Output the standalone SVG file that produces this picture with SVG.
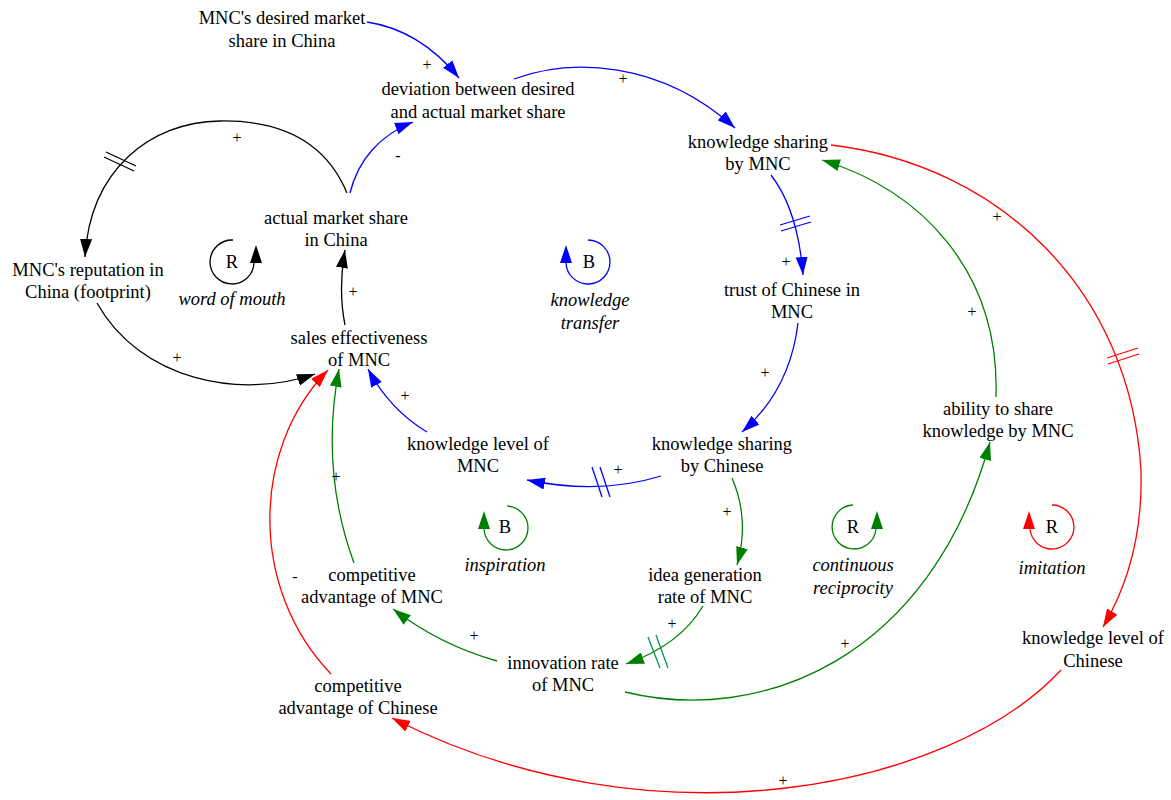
<svg xmlns="http://www.w3.org/2000/svg" width="1171" height="800" viewBox="0 0 1171 800">
<style>
.n{font-family:"Liberation Serif","Times New Roman",serif;font-size:18.5px;fill:#000;text-anchor:middle}
.l{font-family:"Liberation Serif","Times New Roman",serif;font-size:18.5px;font-style:italic;fill:#000;text-anchor:middle}
.p{font-family:"Liberation Serif","Times New Roman",serif;font-size:16px;fill:#000;text-anchor:middle}
.c{fill:none;stroke-width:1.3}
.bl{stroke:#0000ff}.gr{stroke:#008000}.rd{stroke:#ff0000}.bk{stroke:#000}
.d{stroke-width:1.3;fill:none}
</style>
<defs>
<marker id="aB" markerUnits="userSpaceOnUse" markerWidth="18" markerHeight="12" refX="18" refY="6" orient="auto"><path d="M0,0 L18,6 L0,12 z" fill="#0000ff"/></marker>
<marker id="aG" markerUnits="userSpaceOnUse" markerWidth="18" markerHeight="12" refX="18" refY="6" orient="auto"><path d="M0,0 L18,6 L0,12 z" fill="#008000"/></marker>
<marker id="aR" markerUnits="userSpaceOnUse" markerWidth="18" markerHeight="12" refX="18" refY="6" orient="auto"><path d="M0,0 L18,6 L0,12 z" fill="#ff0000"/></marker>
<marker id="aK" markerUnits="userSpaceOnUse" markerWidth="18" markerHeight="12" refX="18" refY="6" orient="auto"><path d="M0,0 L18,6 L0,12 z" fill="#000"/></marker>
</defs>

<g id="connectors">
<path class="c bl" d="M367,22 Q420,30 459,78" marker-end="url(#aB)"/>
<path class="c bl" d="M514,79 C570,58 660,60 735,128" marker-end="url(#aB)"/>
<path class="c bl" d="M350,193 C358,160 380,135 413,122" marker-end="url(#aB)"/>
<path class="c bk" d="M347,193 C325,140 280,120 220,121 C150,122 90,170 85,257" marker-end="url(#aK)"/>
<path class="c bk" d="M97,303 C140,380 240,400 315,374" marker-end="url(#aK)"/>
<path class="c bk" d="M345,325 Q338,290 345,250" marker-end="url(#aK)"/>
<path class="c bl" d="M771,175 Q798,210 803,275" marker-end="url(#aB)"/>
<path class="c bl" d="M798,323 Q790,390 742,432" marker-end="url(#aB)"/>
<path class="c bl" d="M661,476 Q600,495 527,480" marker-end="url(#aB)"/>
<path class="c bl" d="M427,432 Q390,410 368,369" marker-end="url(#aB)"/>
<path class="c gr" d="M732,478 Q750,520 737,565" marker-end="url(#aG)"/>
<path class="c gr" d="M703,606 Q680,645 626,664" marker-end="url(#aG)"/>
<path class="c gr" d="M497,661 Q440,645 393,609" marker-end="url(#aG)"/>
<path class="c gr" d="M354,563 Q320,470 339,369" marker-end="url(#aG)"/>
<path class="c gr" d="M625,692 C760,725 930,660 990,442" marker-end="url(#aG)"/>
<path class="c gr" d="M996,397 C1000,270 920,190 822,160" marker-end="url(#aG)"/>
<path class="c rd" d="M831,145 C1000,165 1130,290 1141,470 C1143,540 1125,590 1103,627" marker-end="url(#aR)"/>
<path class="c rd" d="M1061,670 C950,790 650,850 392,718" marker-end="url(#aR)"/>
<path class="c rd" d="M331,674 C250,590 250,450 328,370" marker-end="url(#aR)"/>
<!-- delay marks -->
<path class="d bk" d="M104,157 L134,171 M106,152 L136,166"/>
<path class="d bl" d="M780,225 L810,216 M781,231 L811,222"/>
<path class="d bl" d="M592,467 L602,497 M600,467 L610,497"/>
<path class="d" stroke="#00994d" d="M648,637 L660,668 M656,635 L668,668"/>
<path class="d rd" d="M1107,358 L1138,348 M1108,364 L1139,354"/>
<!-- polarities -->
<text class="p" x="427" y="70">+</text>
<text class="p" x="623" y="84">+</text>
<text class="p" x="398" y="161">-</text>
<text class="p" x="237" y="143">+</text>
<text class="p" x="177" y="363">+</text>
<text class="p" x="353" y="297">+</text>
<text class="p" x="786" y="267">+</text>
<text class="p" x="765" y="378">+</text>
<text class="p" x="618" y="475">+</text>
<text class="p" x="405" y="401">+</text>
<text class="p" x="727" y="517">+</text>
<text class="p" x="672" y="629">+</text>
<text class="p" x="474" y="641">+</text>
<text class="p" x="336" y="482">+</text>
<text class="p" x="845" y="649">+</text>
<text class="p" x="972" y="317">+</text>
<text class="p" x="997" y="222">+</text>
<text class="p" x="783" y="786">+</text>
<text class="p" x="295" y="582">-</text>
</g>

<g id="desired"><text class="n" x="282" y="24">MNC's desired market<tspan x="282" dy="23">share in China</tspan></text></g>
<g id="deviation"><text class="n" x="478" y="95">deviation between desired<tspan x="478" dy="23">and actual market share</tspan></text></g>
<g id="ks_mnc"><text class="n" x="758" y="148">knowledge sharing<tspan x="758" dy="22">by MNC</tspan></text></g>
<g id="actual"><text class="n" x="336" y="224">actual market share<tspan x="336" dy="22">in China</tspan></text></g>
<g id="reputation"><text class="n" x="88" y="276">MNC's reputation in<tspan x="88" dy="22">China (footprint)</tspan></text></g>
<g id="trust"><text class="n" x="792" y="296">trust of Chinese in<tspan x="792" dy="22">MNC</tspan></text></g>
<g id="sales"><text class="n" x="359" y="344">sales effectiveness<tspan x="359" dy="22">of MNC</tspan></text></g>
<g id="ability"><text class="n" x="998" y="415">ability to share<tspan x="998" dy="22">knowledge by MNC</tspan></text></g>
<g id="kl_mnc"><text class="n" x="478" y="450">knowledge level of<tspan x="478" dy="22">MNC</tspan></text></g>
<g id="ks_chinese"><text class="n" x="722" y="450">knowledge sharing<tspan x="722" dy="22">by Chinese</tspan></text></g>
<g id="idea"><text class="n" x="705" y="581">idea generation<tspan x="705" dy="22">rate of MNC</tspan></text></g>
<g id="comp_mnc"><text class="n" x="372" y="581">competitive<tspan x="372" dy="22">advantage of MNC</tspan></text></g>
<g id="innovation"><text class="n" x="563" y="669">innovation rate<tspan x="563" dy="22">of MNC</tspan></text></g>
<g id="kl_chinese"><text class="n" x="1093" y="644">knowledge level of<tspan x="1093" dy="23">Chinese</tspan></text></g>
<g id="comp_chinese"><text class="n" x="358" y="692">competitive<tspan x="358" dy="22">advantage of Chinese</tspan></text></g>

<g id="loop_wom">
<path class="c bk" d="M233,240 A22,22 0 1 0 254,263"/>
<polygon points="256,245 250,263 262,263" fill="#000"/>
<text class="n" x="232" y="268">R</text>
<text class="l" x="232" y="305">word of mouth</text>
</g>
<g id="loop_kt">
<path class="c bl" d="M588,240 A22,22 0 1 1 566,263"/>
<polygon points="566,245 560,263 572,263" fill="#0000ff"/>
<text class="n" x="589" y="268">B</text>
<text class="l" x="590" y="306">knowledge<tspan x="590" dy="23">transfer</tspan></text>
</g>
<g id="loop_insp">
<path class="c gr" d="M507,506 A22,22 0 1 1 484,529"/>
<polygon points="484,511 478,529 490,529" fill="#008000"/>
<text class="n" x="505" y="533">B</text>
<text class="l" x="505" y="571">inspiration</text>
</g>
<g id="loop_cr">
<path class="c gr" d="M853,505 A22,22 0 1 0 876,529"/>
<polygon points="877,511 871,529 883,529" fill="#008000"/>
<text class="n" x="853" y="533">R</text>
<text class="l" x="853" y="571">continuous<tspan x="853" dy="23">reciprocity</tspan></text>
</g>
<g id="loop_imit">
<path class="c rd" d="M1052,505 A22,22 0 1 1 1030,529"/>
<polygon points="1029,511 1023,529 1035,529" fill="#ff0000"/>
<text class="n" x="1052" y="533">R</text>
<text class="l" x="1052" y="574">imitation</text>
</g>
</svg>
